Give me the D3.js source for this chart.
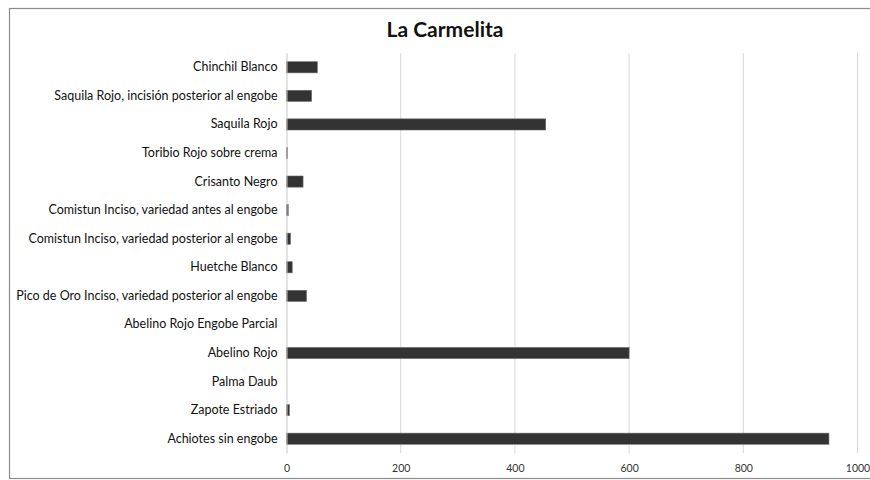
<!DOCTYPE html>
<html>
<head>
<meta charset="utf-8">
<script src="https://cdn.jsdelivr.net/npm/d3@7"></script>
<style>
body { margin: 0; background: #fff; }
</style>
</head>
<body>
<svg id="chart" width="870" height="480"></svg>
<script>
// categories top to bottom, as in the picture
var categories = [
  'Chinchil Blanco',
  'Saquila Rojo, incisión posterior al engobe',
  'Saquila Rojo',
  'Toribio Rojo sobre crema',
  'Crisanto Negro',
  'Comistun Inciso, variedad antes al engobe',
  'Comistun Inciso, variedad posterior al engobe',
  'Huetche Blanco',
  'Pico de Oro Inciso, variedad posterior al engobe',
  'Abelino Rojo Engobe Parcial',
  'Abelino Rojo',
  'Palma Daub',
  'Zapote Estriado',
  'Achiotes sin engobe'
]
var counts = [54, 44, 454, 2, 29, 3, 7, 10, 35, 0, 600, 0, 5, 950]
var ticks = [0, 200, 400, 600, 800, 1000]

var svg = d3.select('#chart')
var margin = {top: 53, right: 13, bottom: 27, left: 286.5}

// outer frame
svg.append('rect')
  .attr('x', 9.5).attr('y', 8.5)
  .attr('width', 862).attr('height', 470)
  .attr('fill', '#fff')
  .attr('stroke', '#8c8c8c')
  .attr('stroke-width', 1.2)

svg.append('text')
  .attr('x', 445).attr('y', 37)
  .attr('text-anchor', 'middle')
  .style('font-family', 'Lato, sans-serif')
  .style('font-weight', 'bold')
  .style('font-size', '21px')
  .attr('fill', '#111')
  .text('La Carmelita')

var g = svg.append('g')
  .attr('transform', 'translate(' + margin.left + ',' + margin.top + ')')

var x = d3.scaleLinear().domain([0, 1000]).range([0, 571])
var y = d3.scaleBand().domain(categories).range([0, 400]).paddingInner(0.61).paddingOuter(0.305)

// gridlines
g.append('g')
  .selectAll('line')
  .data(ticks.slice(1))
  .enter()
  .append('line')
    .attr('x1', d => x(d)).attr('x2', d => x(d))
    .attr('y1', 0).attr('y2', 400)
    .attr('stroke', '#d9d9d9')
    .attr('stroke-width', 1)

// x tick labels
var xAxis = g.append('g')
  .attr('transform', 'translate(0,400)')
  .call(d3.axisBottom(x).tickValues(ticks).tickSize(0).tickPadding(12).tickFormat(d3.format('d')))
xAxis.select('.domain').remove()
xAxis.selectAll('text')
  .style('font-family', 'Lato, sans-serif')
  .style('font-size', '10.5px')
  .attr('fill', '#333')

// bars
g.selectAll('rect.bar')
  .data(counts)
  .enter()
  .append('rect')
    .attr('class', 'bar')
    .attr('x', 0)
    .attr('y', (d, i) => y(categories[i]))
    .attr('width', d => x(d))
    .attr('height', y.bandwidth())
    .attr('fill', '#333333')
    .attr('stroke', d => d > 0 ? '#6a6a6a' : 'none')
    .attr('stroke-width', 0.6)

// y axis
var yAxis = g.append('g')
  .call(d3.axisLeft(y).tickSize(0).tickPadding(9))
yAxis.select('.domain')
  .attr('stroke', '#c8c8c8')
yAxis.selectAll('text')
  .style('font-family', 'Lato, sans-serif')
  .style('font-size', '12.5px')
  .attr('fill', '#111')
</script>
</body>
</html>
